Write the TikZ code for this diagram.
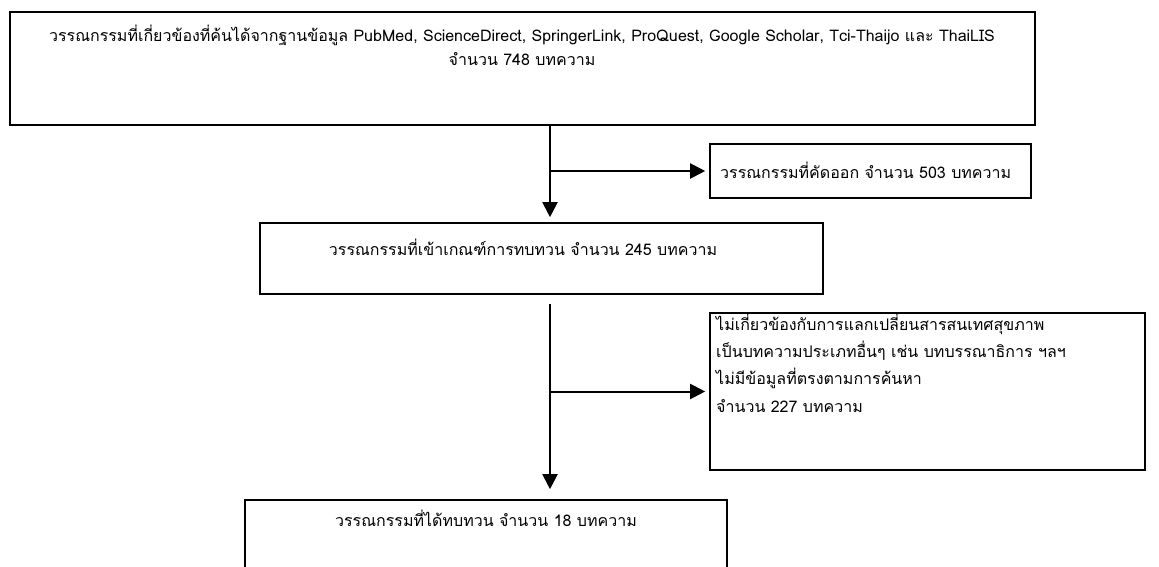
\documentclass[tikz,border=0pt]{standalone}
\usepackage{fontspec}
\setmainfont[Script=Thai]{Loma}
\usetikzlibrary{arrows.meta}
\tikzset{
  box/.style={draw=black, line width=1.6pt, rectangle, inner sep=0pt},
  txt/.style={inner sep=0pt, text height=12pt, text depth=4pt, font=\fontsize{16}{19}\selectfont},
  arr/.style={draw=black, line width=2pt, -{Triangle[length=15pt,width=15pt]}}
}
\begin{document}
\begin{tikzpicture}[x=1pt,y=-1pt]
\useasboundingbox (0,0) rectangle (1159,567);
\clip (0,0) rectangle (1159,567);
% boxes
\node[box, minimum width=1025pt, minimum height=113pt] (b1) at (522.5,68.5) {};
\node[box, minimum width=321pt, minimum height=54pt] (b2) at (870.5,171) {};
\node[box, minimum width=563pt, minimum height=71pt] (b3) at (541.5,258.5) {};
\node[box, minimum width=435pt, minimum height=157pt] (b4) at (927.5,391.5) {};
\node[box, minimum width=482pt, minimum height=100pt] (b5) at (486,550) {};
% texts
\node[txt] (t1a) at (522,38) {วรรณกรรมที่เกี่ยวข้องที่ค้นได้จากฐานข้อมูล PubMed, ScienceDirect, SpringerLink, ProQuest, Google Scholar, Tci-Thaijo และ ThaiLIS};
\node[txt] (t1b) at (522,62) {จำนวน 748 บทความ};
\node[txt, anchor=west] (t2) at (720,174) {วรรณกรรมที่คัดออก จำนวน 503 บทความ};
\node[txt] (t3) at (523,251) {วรรณกรรมที่เข้าเกณฑ์การทบทวน จำนวน 245 บทความ};
\node[txt, anchor=west] (t4a) at (716,326) {ไม่เกี่ยวข้องกับการแลกเปลี่ยนสารสนเทศสุขภาพ};
\node[txt, anchor=west] (t4b) at (716,353) {เป็นบทความประเภทอื่นๆ เช่น บทบรรณาธิการ ฯลฯ};
\node[txt, anchor=west] (t4c) at (716,380) {ไม่มีข้อมูลที่ตรงตามการค้นหา};
\node[txt, anchor=west] (t4d) at (716,408) {จำนวน 227 บทความ};
\node[txt] (t5) at (486,522) {วรรณกรรมที่ได้ทบทวน จำนวน 18 บทความ};
% connectors
\coordinate (v) at (550,0);
\draw[arr, shorten >=5pt] (v |- b1.south) -- (v |- b3.north);
\draw[arr, shorten >=4pt] (v |- b2.west) -- (b2.west);
\draw[arr, shorten <=9pt, shorten >=10pt] (v |- b3.south) -- (v |- b5.north);
\draw[arr, shorten >=4pt] (v |- b4.west) -- (b4.west);
\end{tikzpicture}
\end{document}
